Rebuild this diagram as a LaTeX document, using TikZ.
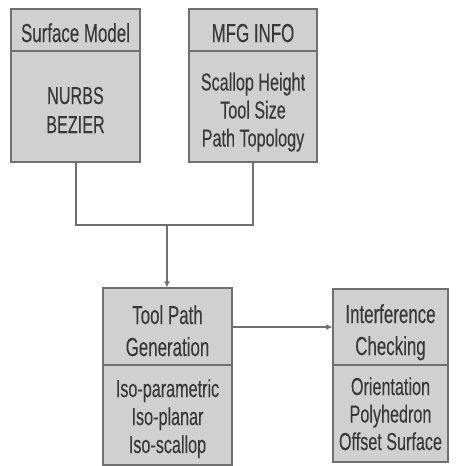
\documentclass[tikz,border=0pt]{standalone}
\usepackage{fontspec}
\setmainfont[FakeStretch=0.66]{Liberation Sans}
\newfontfamily\ttlfont[FakeStretch=0.65,FakeBold=0.2]{Liberation Sans}
\newfontfamily\bodfont[FakeStretch=0.66,FakeBold=0.2]{Liberation Sans}
\usetikzlibrary{arrows.meta}
\definecolor{boxfill}{HTML}{D0D0D0}
\definecolor{boxline}{HTML}{707070}
\definecolor{txt}{HTML}{383838}
\definecolor{conn}{HTML}{707070}
\begin{document}
\begin{tikzpicture}[x=1pt,y=-1pt,
  box/.style={draw=boxline, fill=boxfill, line width=1.3pt, inner sep=0, rectangle},
  ttl/.style={font=\ttlfont\fontsize{26}{26}\selectfont, anchor=base, text=txt, inner sep=0},
  bod/.style={font=\bodfont\fontsize{24.5}{24.5}\selectfont, anchor=base, text=txt, inner sep=0},
  divider/.style={draw=boxline, line width=1.3pt},
  conline/.style={draw=conn, line width=1.1pt},
  arr/.style={conline, -{Latex[length=6pt,width=6pt]}}
]
\useasboundingbox (0,0) rectangle (459,466);
% boxes
\node[box, minimum width=129pt, minimum height=153pt] (b1) at (75.5,85.5) {};
\node[box, minimum width=128pt, minimum height=153pt] (b2) at (253,85.5) {};
\node[box, minimum width=129pt, minimum height=177pt] (b3) at (167.5,376.5) {};
\node[box, minimum width=115pt, minimum height=173pt] (b4) at (390.5,375.5) {};
% dividers
\draw[divider] (b1.west |- 0,51) -- (b1.east |- 0,51);
\draw[divider] (b2.west |- 0,51) -- (b2.east |- 0,51);
\draw[divider] (b3.west |- 0,365) -- (b3.east |- 0,365);
\draw[divider] (b4.west |- 0,365) -- (b4.east |- 0,365);
% texts box 1
\node[ttl] (t1) at (75.5,42) {Surface Model};
\node[bod] (t1a) at (75.5,104) {NURBS};
\node[bod] (t1b) at (75.5,133) {BEZIER};
% box 2
\node[ttl] (t2) at (253,42) {MFG INFO};
\node[bod] (t2a) at (253,90.5) {Scallop Height};
\node[bod] (t2b) at (253,118.5) {Tool Size};
\node[bod] (t2c) at (253,146.5) {Path Topology};
% box 3
\node[ttl] (t3a) at (167.5,324) {Tool Path};
\node[ttl] (t3b) at (167.5,356) {Generation};
\node[bod] (t3c) at (167.5,397) {Iso-parametric};
\node[bod] (t3d) at (167.5,425) {Iso-planar};
\node[bod] (t3e) at (167.5,453) {Iso-scallop};
% box 4
\node[ttl] (t4a) at (390.5,323) {Interference};
\node[ttl] (t4b) at (390.5,355) {Checking};
\node[bod] (t4c) at (390.5,395) {Orientation};
\node[bod] (t4d) at (390.5,422.5) {Polyhedron};
\node[bod] (t4e) at (390.5,450) {Offset Surface};
% connectors
\coordinate (j1) at (76,225);
\coordinate (j2) at (253,225);
\coordinate (jm) at (167,225);
\draw[conline] (b1.south -| j1) -- (j1) -- (j2) -- (b2.south -| j2);
\draw[arr] (jm) -- (b3.north -| jm);
\draw[arr] (b3.east |- 0,327) -- (b4.west |- 0,327);
\end{tikzpicture}
\end{document}
